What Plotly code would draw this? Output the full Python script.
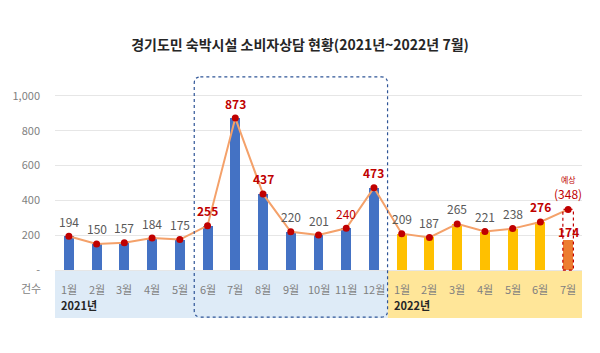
import plotly.graph_objects as go

months = ["1월", "2월", "3월", "4월", "5월", "6월", "7월", "8월", "9월", "10월", "11월", "12월",
          "1월", "2월", "3월", "4월", "5월", "6월", "7월"]
bar_values = [194, 150, 157, 184, 175, 255, 873, 437, 220, 201, 240, 473,
              209, 187, 265, 221, 238, 276, 174]
line_values = [194, 150, 157, 184, 175, 255, 873, 437, 220, 201, 240, 473,
               209, 187, 265, 221, 238, 276, 348]
label_text = ["194", "150", "157", "184", "175", "255", "873", "437", "220", "201", "240", "473",
              "209", "187", "265", "221", "238", "276", ""]
highlight = [False, False, False, False, False, True, True, True, False, False, True, True,
             False, False, False, False, False, True, False]
bold_flags = [False, False, False, False, False, True, True, True, False, False, False, True,
              False, False, False, False, False, True, False]
forecast_value = 348
year_labels = ["2021년", "2022년"]
y_ticks = [0, 200, 400, 600, 800, 1000]
y_ticktext = ["-", "200", "400", "600", "800", "1,000"]

BLUE = "#4472C4"
GOLD = "#FFC000"
ORANGE = "#ED7D31"
DARKRED = "#C00000"
GRAY = "#7F7F7F"
FONT = "Noto Sans CJK KR"

n = len(months)
xs = list(range(n))
bar_colors = [BLUE] * 12 + [GOLD] * 6 + [ORANGE]

fig = go.Figure()

fig.add_trace(go.Bar(x=xs, y=bar_values, marker_color=bar_colors, width=0.36,
                     marker_line_width=0, showlegend=False, hoverinfo="skip"))
fig.add_trace(go.Scatter(x=xs, y=line_values, mode="lines+markers",
                         line=dict(color="#F4A16A", width=2),
                         marker=dict(color=DARKRED, size=7),
                         showlegend=False, hoverinfo="skip"))

shapes = []
# background bands
shapes.append(dict(type="rect", xref="x", yref="y", x0=-0.5, x1=11.5, y0=0, y1=-276,
                   fillcolor="#DEEBF7", line_width=0, layer="below"))
shapes.append(dict(type="rect", xref="x", yref="y", x0=11.5, x1=18.5, y0=0, y1=-276,
                   fillcolor="#FFE699", line_width=0, layer="below"))
# dashed forecast box on last bar
shapes.append(dict(type="rect", xref="x", yref="y", x0=18 - 0.19, x1=18 + 0.19,
                   y0=0, y1=forecast_value,
                   line=dict(color=DARKRED, width=1.2, dash="dot"), fillcolor="rgba(0,0,0,0)"))
# rounded dashed highlight rectangle
x0, x1, y0, y1 = 4.52, 11.49, -270, 1109
rx, ry = 0.22, 36
path = (f"M {x0+rx},{y1} L {x1-rx},{y1} Q {x1},{y1} {x1},{y1-ry} "
        f"L {x1},{y0+ry} Q {x1},{y0} {x1-rx},{y0} "
        f"L {x0+rx},{y0} Q {x0},{y0} {x0},{y0+ry} "
        f"L {x0},{y1-ry} Q {x0},{y1} {x0+rx},{y1} Z")
shapes.append(dict(type="path", xref="x", yref="y", path=path,
                   line=dict(color="#2F5597", width=1.2, dash="dot"), fillcolor="rgba(0,0,0,0)"))

annotations = []
for i in xs:
    if label_text[i]:
        col = DARKRED if highlight[i] else "#595959"
        txt = f"<b>{label_text[i]}</b>" if bold_flags[i] else label_text[i]
        annotations.append(dict(x=i, y=line_values[i], xref="x", yref="y", text=txt,
                                showarrow=False, yshift=15,
                                font=dict(family=FONT, size=12, color=col)))
    annotations.append(dict(x=i, y=-110, xref="x", yref="y", text=months[i], showarrow=False,
                            font=dict(family=FONT, size=11, color=GRAY)))

# forecast labels
annotations.append(dict(x=18, y=forecast_value, xref="x", yref="y", text="(348)", showarrow=False,
                        yshift=16, font=dict(family=FONT, size=12, color=DARKRED)))
annotations.append(dict(x=18, y=forecast_value, xref="x", yref="y", text="예상", showarrow=False,
                        yshift=30, font=dict(family=FONT, size=8, color=DARKRED)))
annotations.append(dict(x=18, y=bar_values[-1], xref="x", yref="y", text=f"<b>{bar_values[-1]}</b>",
                        showarrow=False, yshift=8, font=dict(family=FONT, size=12, color=DARKRED)))

# year labels
annotations.append(dict(x=-0.35, y=-200, xref="x", yref="y", text=f"<b>{year_labels[0]}</b>",
                        showarrow=False, xanchor="left",
                        font=dict(family=FONT, size=11, color="#262626")))
annotations.append(dict(x=11.65, y=-200, xref="x", yref="y", text=f"<b>{year_labels[1]}</b>",
                        showarrow=False, xanchor="left",
                        font=dict(family=FONT, size=11, color="#262626")))
# unit label
annotations.append(dict(x=-0.045, y=0.128, xref="paper", yref="paper", text="건수",
                        xanchor="center", yanchor="middle",
                        showarrow=False, font=dict(family=FONT, size=11, color=GRAY)))

fig.update_layout(
    width=600, height=353,
    margin=dict(l=55, r=18, t=70, b=33),
    paper_bgcolor="white", plot_bgcolor="white",
    title=dict(text="<b>경기도민 숙박시설 소비자상담 현황(2021년~2022년 7월)</b>",
               x=0.5, xanchor="center", y=0.872, yanchor="middle",
               font=dict(family=FONT, size=14, color="#262626")),
    xaxis=dict(range=[-0.5, 18.5], showticklabels=False, showgrid=False, zeroline=False,
               fixedrange=True),
    yaxis=dict(range=[-287, 1149], tickvals=y_ticks, ticktext=y_ticktext,
               showgrid=True, gridcolor="#E6E6E6", gridwidth=1, zeroline=False,
               tickfont=dict(family=FONT, size=11, color=GRAY), ticklabelstandoff=14),
    shapes=shapes, annotations=annotations, bargap=0,
)

fig.write_html("out.html")
